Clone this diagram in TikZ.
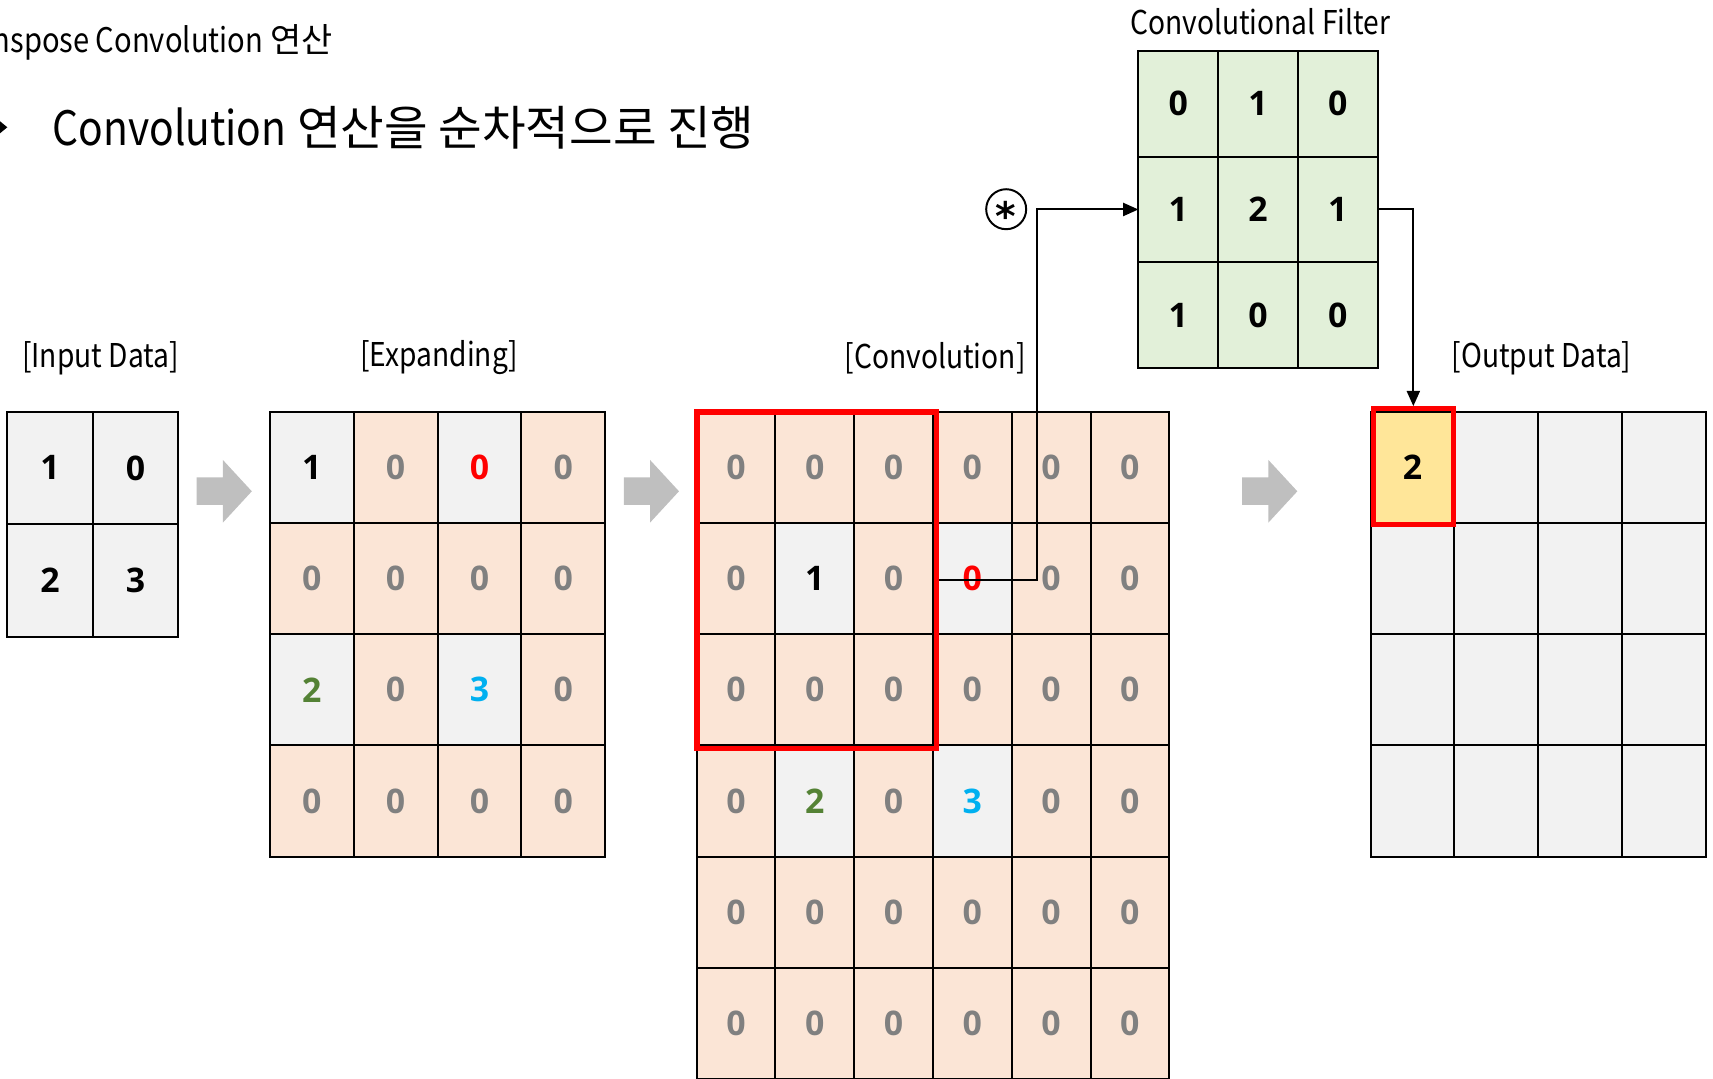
\documentclass[tikz,border=0pt]{standalone}
\usepackage{fontspec}
\setmainfont{Noto Sans CJK KR}
\newfontfamily\labfont[FakeStretch=0.86]{Noto Sans CJK KR}
\newfontfamily\numfont{Open Sans}
\newfontfamily\symfont{DejaVu Sans}
\usetikzlibrary{arrows.meta}
\definecolor{cellgray}{HTML}{F2F2F2}
\definecolor{peach}{HTML}{FBE5D6}
\definecolor{filtgreen}{HTML}{E2F0D9}
\definecolor{outyellow}{HTML}{FFE699}
\definecolor{zerogray}{HTML}{808080}
\definecolor{boxred}{HTML}{FF0000}
\definecolor{numgreen}{HTML}{548235}
\definecolor{numblue}{HTML}{00B0F0}
\definecolor{arrowgray}{HTML}{BFBFBF}
\newcommand\mkcell[8]{\node[cellbase, fill=#6, text=#7, minimum width=#4pt, minimum height=#5pt] (#1) at ({#2},{#3}) {#8};}
\begin{document}
\begin{tikzpicture}[x=1pt,y=-1pt,
  cellbase/.style={rectangle, draw=black, line width=1.8pt, inner sep=0pt, outer sep=0pt, anchor=north west, font=\numfont\bfseries\fontsize{31}{31}\selectfont},
  lab/.style={inner sep=0pt, font=\labfont\fontsize{30}{30}\selectfont},
  redbox/.style={rectangle, draw=boxred, inner sep=0pt},
  conn/.style={line width=1.8pt, -{Triangle[length=14pt,width=12pt]}},
  blockarrow/.style={fill=arrowgray}
]
\useasboundingbox (0,0) rectangle (1568,987);
\clip (0,0) rectangle (1568,987);

% heading lines
\node[anchor=base east, inner sep=0pt, font=\fontsize{31}{31}\selectfont] (title) at (305,48) {{\labfont Transpose Convolution} 연산};
\fill (-6.7,116.5) -- (0,111) -- (6.7,116.5) -- (0,122) -- cycle;
\node[anchor=base west, inner sep=0pt, font=\fontsize{43.4}{43.4}\selectfont] (bullettext) at (48,133) {{\labfont Convolution} 연산을 순차적으로 진행};

% labels
\node[lab] (labin) at (92,327.5) {[Input Data]};
\node[lab] (labex) at (402,327.5) {[Expanding]};
\node[lab] (labcv) at (856,327.5) {[Convolution]};
\node[lab] (labout) at (1411,327.5) {[Output Data]};
\node[lab, anchor=base] (labfl) at (1153.5,32) {Convolutional Filter};

% block arrows
\foreach \s in {0,391,957}{
  \fill[blockarrow] ({180+\s},437) -- ({204+\s},437) -- ({204+\s},421) -- ({230.5+\s},449.7)
    -- ({204+\s},478.4) -- ({204+\s},462.2) -- ({180+\s},462.2) -- cycle;
}

% input data
\foreach \r/\c/\v in {1/1/1,1/2/0,2/1/2,2/2/3}{
  \mkcell{in-\r-\c}{6.7+78.25*(\c-1)}{376.8+103*(\r-1)}{78.25}{103}{cellgray}{black}{\v}
}

% expanding
\foreach \r in {1,...,4}{\foreach \c in {1,...,4}{
  \def\cf{peach}\def\tc{zerogray}\def\tv{0}%
  \ifnum\r\c=11 \def\cf{cellgray}\def\tc{black}\def\tv{1}\fi
  \ifnum\r\c=13 \def\cf{cellgray}\def\tc{boxred}\fi
  \ifnum\r\c=31 \def\cf{cellgray}\def\tc{numgreen}\def\tv{2}\fi
  \ifnum\r\c=33 \def\cf{cellgray}\def\tc{numblue}\def\tv{3}\fi
  \mkcell{ex-\r-\c}{247+76.75*(\c-1)}{376.8+101.83*(\r-1)}{76.75}{101.83}{\cf}{\tc}{\tv}
}}

% convolution
\foreach \r in {1,...,6}{\foreach \c in {1,...,6}{
  \def\cf{peach}\def\tc{zerogray}\def\tv{0}%
  \ifnum\r\c=22 \def\cf{cellgray}\def\tc{black}\def\tv{1}\fi
  \ifnum\r\c=24 \def\cf{cellgray}\def\tc{boxred}\fi
  \ifnum\r\c=42 \def\cf{cellgray}\def\tc{numgreen}\def\tv{2}\fi
  \ifnum\r\c=44 \def\cf{cellgray}\def\tc{numblue}\def\tv{3}\fi
  \mkcell{cv-\r-\c}{637.7+72.1*(\c-1)}{376.8+101.83*(\r-1)}{72.1}{101.83}{\cf}{\tc}{\tv}
}}
\node[redbox, line width=5pt, minimum width=219pt, minimum height=308pt] (cvwin) at (747.5,531) {};

% filter
\foreach \r/\c/\v in {1/1/0,1/2/1,1/3/0,2/1/1,2/2/2,2/3/1,3/1/1,3/2/0,3/3/0}{
  \mkcell{fl-\r-\c}{1042+73*(\c-1)}{46.5+96.83*(\r-1)}{73}{96.83}{filtgreen}{black}{\v}
}

% output
\foreach \r in {1,...,4}{\foreach \c in {1,...,4}{
  \def\cf{cellgray}\def\tv{}%
  \ifnum\r\c=11 \def\cf{outyellow}\def\tv{2}\fi
  \mkcell{out-\r-\c}{1254.6+76.7*(\c-1)}{376.8+101.83*(\r-1)}{76.7}{101.83}{\cf}{black}{\tv}
}}
\node[redbox, line width=4.6pt, minimum width=73.3pt, minimum height=106.3pt] (outwin) at (1293.7,427.2) {};

% convolution operator symbol
\node[circle, draw, line width=1.8pt, minimum size=36.6pt, inner sep=0pt] (convop) at (921,191.5)
  {\symfont\bfseries\fontsize{36}{36}\selectfont\raisebox{-0.55em}[0pt][0pt]{*}};

% connectors
\coordinate (bend) at (949,531);
\draw[conn] (cvwin.east) -- (bend) |- (fl-2-1.west);
\draw[conn] (fl-2-3.east) -| (outwin.north);
\end{tikzpicture}
\end{document}
